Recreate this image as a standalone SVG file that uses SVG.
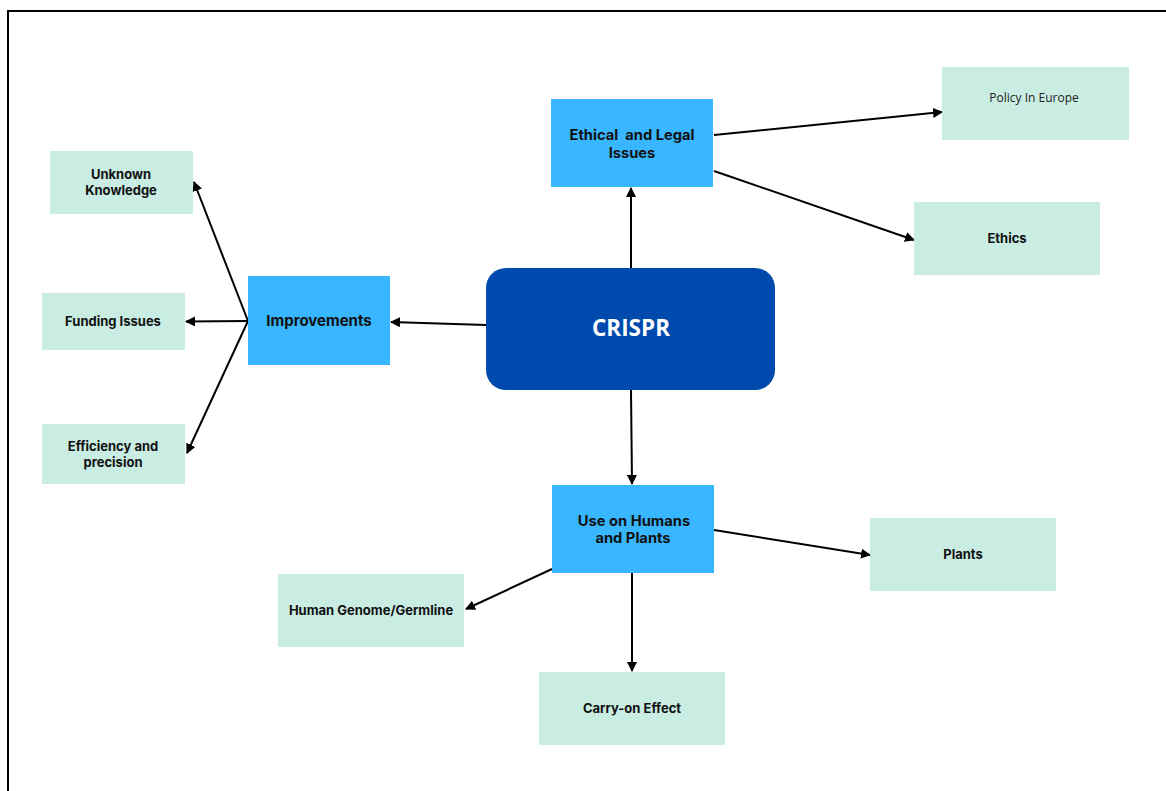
<svg xmlns="http://www.w3.org/2000/svg" width="1166" height="791" viewBox="0 0 1166 791">
<style>
.lbl{font-family:Inter,"Liberation Sans",sans-serif;font-weight:700;font-size:13px;fill:#111;text-anchor:middle}
.big{font-size:15px}
.mid{font-size:14.7px}
.pre{white-space:pre}
.reg{font-family:"Open Sans","Liberation Sans",sans-serif;font-weight:400;font-size:12px;fill:#222;text-anchor:middle}
.core{font-family:"Open Sans","Noto Sans",sans-serif;font-weight:700;font-size:22.5px;fill:#fff;text-anchor:middle}
.main{fill:#38B6FF}
.leaf{fill:#C9ECE3}
.conn{stroke:#000;stroke-width:2;fill:none;marker-end:url(#ah)}
</style>
<defs>
<marker id="ah" viewBox="0 0 10 10" refX="9" refY="5" markerWidth="5" markerHeight="5" orient="auto" markerUnits="strokeWidth">
<path d="M0,0 L10,5 L0,10 Z" fill="#000"/>
</marker>
</defs>
<rect x="0" y="0" width="1166" height="791" fill="#fff"/>
<rect x="8" y="11" width="1170" height="800" fill="none" stroke="#000" stroke-width="2"/>
<g id="connectors">
<line class="conn" x1="631" y1="268" x2="631" y2="188"/>
<line class="conn" x1="714" y1="135" x2="942" y2="112"/>
<line class="conn" x1="714" y1="171" x2="914" y2="240"/>
<line class="conn" x1="486" y1="325" x2="391" y2="322"/>
<line class="conn" x1="248" y1="321" x2="194" y2="182"/>
<line class="conn" x1="248" y1="321" x2="186" y2="321.5"/>
<line class="conn" x1="248" y1="321" x2="187" y2="453"/>
<line class="conn" x1="631" y1="390" x2="632" y2="484"/>
<line class="conn" x1="714" y1="530" x2="870" y2="555"/>
<line class="conn" x1="552" y1="569" x2="466" y2="609"/>
<line class="conn" x1="632" y1="573" x2="632" y2="671"/>
</g>
<g id="crispr">
<rect x="486" y="268" width="289" height="122" rx="20" fill="#004AAD"/>
<text class="core" x="631" y="336">CRISPR</text>
</g>
<g id="ethical">
<rect class="main" x="551" y="99" width="162" height="88"/>
<text class="lbl mid pre" x="632" y="140" xml:space="preserve">Ethical  and Legal</text>
<text class="lbl mid" x="632" y="158">Issues</text>
</g>
<g id="improvements">
<rect class="main" x="248" y="276" width="142" height="89"/>
<text class="lbl big" x="319" y="326">Improvements</text>
</g>
<g id="use">
<rect class="main" x="552" y="485" width="162" height="88"/>
<text class="lbl mid" x="634" y="526">Use on Humans</text>
<text class="lbl mid" x="633" y="543">and Plants</text>
</g>
<g id="unknown">
<rect class="leaf" x="50" y="151" width="143" height="63"/>
<text class="lbl" x="121" y="179">Unknown</text>
<text class="lbl" x="121" y="195">Knowledge</text>
</g>
<g id="funding">
<rect class="leaf" x="42" y="293" width="143" height="57"/>
<text class="lbl" x="113" y="326">Funding Issues</text>
</g>
<g id="efficiency">
<rect class="leaf" x="42" y="424" width="143" height="60"/>
<text class="lbl" x="113" y="451">Efficiency and</text>
<text class="lbl" x="113" y="467">precision</text>
</g>
<g id="policy">
<rect class="leaf" x="942" y="67" width="187" height="73"/>
<text class="reg" x="1034" y="102">Policy In Europe</text>
</g>
<g id="ethics">
<rect class="leaf" x="914" y="202" width="186" height="73"/>
<text class="lbl" x="1007" y="243">Ethics</text>
</g>
<g id="plants">
<rect class="leaf" x="870" y="518" width="186" height="73"/>
<text class="lbl" x="963" y="559">Plants</text>
</g>
<g id="genome">
<rect class="leaf" x="278" y="574" width="186" height="73"/>
<text class="lbl" x="371" y="615">Human Genome/Germline</text>
</g>
<g id="carry">
<rect class="leaf" x="539" y="672" width="186" height="73"/>
<text class="lbl" x="632" y="713">Carry-on Effect</text>
</g>
</svg>
